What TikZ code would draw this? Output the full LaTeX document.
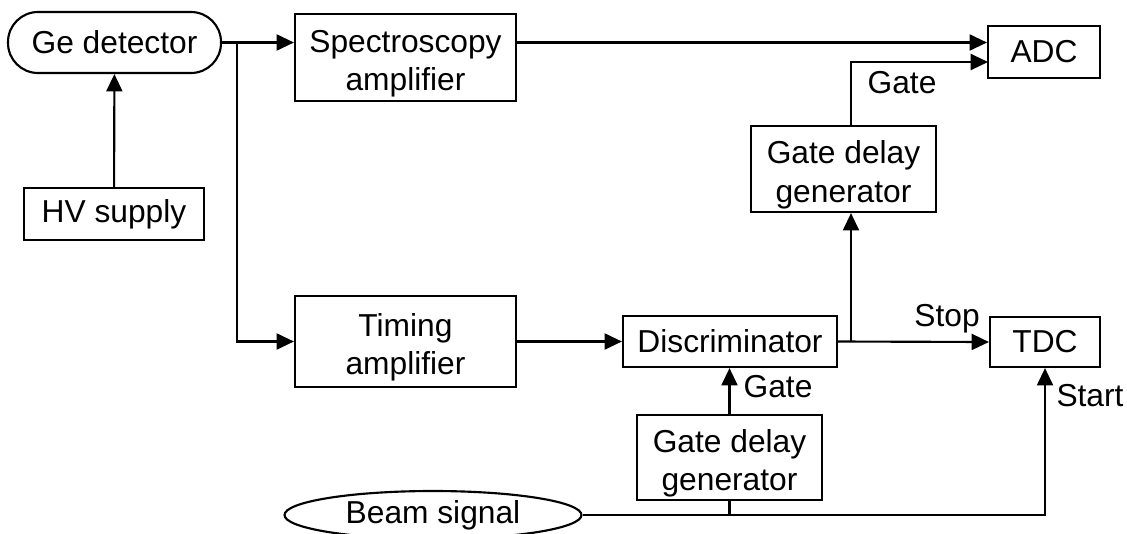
\documentclass[tikz,border=0pt]{standalone}
\usepackage{fontspec}
\setmainfont{Liberation Sans}
\usetikzlibrary{arrows.meta,shapes.geometric}

\tikzset{
	blk/.style={draw, rectangle, inner sep=0pt, align=center},
	twoline/.style={text height=55pt},
	sig/.style={-{Triangle[length=13pt,width=12pt]}},
	lbl/.style={inner sep=0pt}}
\tikzset{every picture/.style={line width=1.6pt}}

\begin{document}
\begin{tikzpicture}[x=0.75pt,y=0.75pt,yscale=-1,xscale=1,
	every node/.append style={font=\fontsize{23.8}{29}\selectfont}]
	\useasboundingbox (0,0) rectangle (1127,533);

	%Shape: Rounded Rectangle
	\node [blk, rounded corners=22.5pt, minimum width=159.75pt, minimum height=45.75pt] (ge) at (114.5,42.5) {Ge detector};
	%Shape: Rectangle
	\node [blk, minimum width=135pt, minimum height=39pt] (hv) at (114,214) {HV supply};
	%Shape: Rectangle
	\node [blk, twoline, minimum width=165.75pt, minimum height=65.25pt] (spec) at (405.5,57.5) {Spectroscopy\\amplifier};
	%Shape: Rectangle
	\node [blk, twoline, minimum width=165.75pt, minimum height=68.25pt] (timing) at (405.5,341.5) {Timing\\amplifier};
	%Shape: Rectangle
	\node [blk, minimum width=84pt, minimum height=39pt] (adc) at (1044,52) {ADC};
	%Shape: Rectangle
	\node [blk, minimum width=82.5pt, minimum height=37.5pt] (tdc) at (1045,342) {TDC};
	%Shape: Rectangle
	\node [blk, minimum width=160.5pt, minimum height=38.25pt] (disc) at (730,341.5) {Discriminator};
	%Shape: Rectangle
	\node [blk, twoline, minimum width=138.75pt, minimum height=64.5pt] (gdA) at (843.5,169) {Gate delay\\generator};
	%Shape: Rectangle
	\node [blk, twoline, minimum width=138.75pt, minimum height=63.75pt] (gdB) at (729.5,457.5) {Gate delay\\generator};
	%Shape: Ellipse
	\node [draw, ellipse, inner sep=0pt, minimum width=222.75pt, minimum height=36pt] (beam) at (433,515) {Beam signal};

	%Branch points
	\coordinate (splitA) at (237,43);
	\coordinate (splitB) at (851,342);
	\coordinate (adcGate) at (988,62);

	%Straight Lines
	\draw [sig] (hv) -- (ge);
	\draw [sig] (ge.east) -- (spec.west |- ge.east);
	\draw [sig] (splitA) |- (timing.west);
	\draw [sig] (spec.east |- ge.east) -- (adc.west |- ge.east);
	\draw [sig] (timing.east) -- (disc.west);
	\draw [sig] (disc.east) -- (tdc.west);
	\draw [sig] (splitB) -- (splitB |- gdA.south);
	\draw [sig] (splitB |- gdA.north) |- (adcGate);
	\draw [sig] (gdB.north) -- (gdB.north |- disc.south);
	\draw [sig] (beam.east) -| (tdc.south);
	\draw (gdB.south) -- (gdB.south |- beam.east);

	% Text Node
	\node [lbl] (gateA) at (902,83) {Gate};
	% Text Node
	\node [lbl] (stop) at (947,319) {Stop};
	% Text Node
	\node [lbl] (gateB) at (778,387) {Gate};
	% Text Node
	\node [lbl] (start) at (1090,396) {Start};

\end{tikzpicture}
\end{document}
